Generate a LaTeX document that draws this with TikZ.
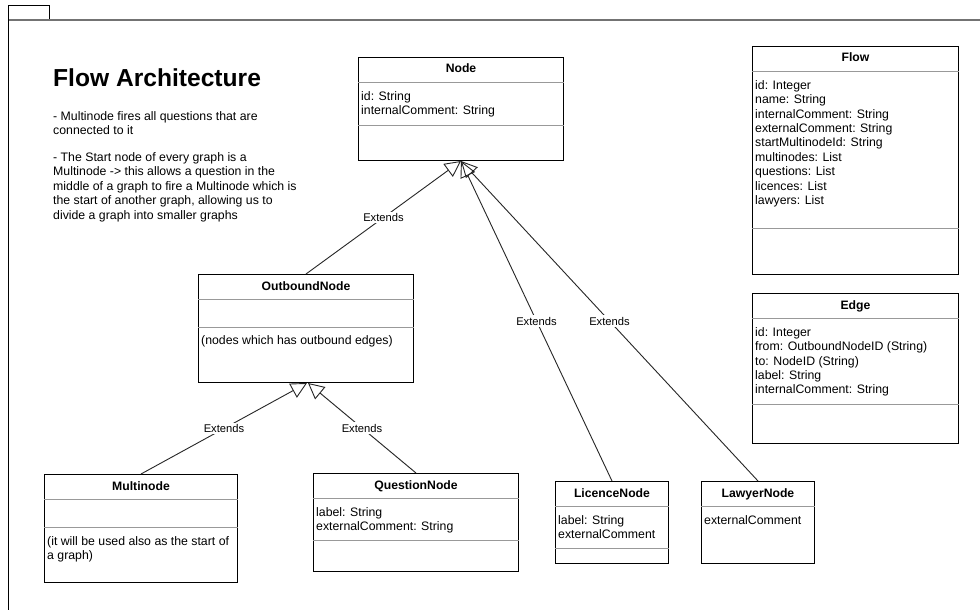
\documentclass[tikz,border=0pt]{standalone}
\usepackage{fontspec}
\setmainfont{Liberation Sans}
\usetikzlibrary{arrows.meta,calc}

\begin{document}
\begin{tikzpicture}[x=1pt,y=-1pt,
  classbox/.style={draw=black, line width=1pt, anchor=north west, inner sep=0pt, fill=white},
  divider/.style={draw=black!40, line width=1pt},
  ctitle/.style={anchor=base, inner sep=0pt, font=\fontsize{12.2}{14.4}\selectfont\bfseries},
  attr/.style={anchor=base west, inner sep=0pt, font=\fontsize{12.3}{14.4}\selectfont},
  extends/.style={draw=black!85, line width=0.9pt, -{Triangle[open, length=16pt, width=16pt]}},
  elabel/.style={fill=white, inner sep=1.5pt, font=\fontsize{11.2}{13}\selectfont},
]
% page
\useasboundingbox (0,0) rectangle (980,610);
\fill[white] (0,0) rectangle (980,610);

% frame with tab
\draw[black, line width=1pt] (8,6) rectangle (49,20);
\draw[black!55, line width=1.5pt] (8,20) -- (980,20);
\draw[black, line width=1pt] (8,6) -- (8,610);

% heading and notes
\node[anchor=base west, inner sep=0pt, font=\fontsize{24.6}{28}\selectfont\bfseries] (heading) at (53,86) {Flow Architecture};
\foreach \ln [count=\i from 0] in {- Multinode fires all questions that are, connected to it}
  \node[attr] (notea\i) at (53,120.5+14.4*\i) {\ln};
\foreach \ln [count=\i from 0] in {- The Start node of every graph is a,
    Multinode -> this allows a question in the,
    middle of a graph to fire a Multinode which is,
    {the start of another graph, allowing us to},
    divide a graph into smaller graphs}
  \node[attr] (noteb\i) at (53,161.5+14.4*\i) {\ln};

% helpers: compartment line and title
\newcommand{\umlsep}[2]{\draw[divider] ($(#1.north west)+(0,#2)$) -- ($(#1.north east)+(0,#2)$);}
\newcommand{\umltitle}[2]{\node[ctitle] (#1-title) at ($(#1.north)+(0,16)$) {#2};}

% Node
\node[classbox, minimum width=205pt, minimum height=103pt] (node) at (358,57) {};
\umltitle{node}{Node}
\umlsep{node}{26}
\umlsep{node}{68}
\foreach \ln [count=\i from 0] in {id: String, internalComment: String}
  \node[attr] (node-a\i) at ($(node.north west)+(3,43.5+14.4*\i)$) {\ln};

% Flow
\node[classbox, minimum width=206pt, minimum height=228pt] (flow) at (752,46) {};
\umltitle{flow}{Flow}
\umlsep{flow}{26}
\umlsep{flow}{182}
\foreach \ln [count=\i from 0] in {id: Integer, name: String, internalComment: String,
    externalComment: String, startMultinodeId: String, multinodes: List,
    questions: List, licences: List, lawyers: List}
  \node[attr] (flow-a\i) at ($(flow.north west)+(3,43.3+14.4*\i)$) {\ln};

% Edge
\node[classbox, minimum width=206pt, minimum height=150pt] (edge) at (752,293) {};
\umltitle{edge}{Edge}
\umlsep{edge}{25}
\umlsep{edge}{111}
\foreach \ln [count=\i from 0] in {id: Integer, from: OutboundNodeID (String),
    to: NodeID (String), label: String, internalComment: String}
  \node[attr] (edge-a\i) at ($(edge.north west)+(3,43.3+14.4*\i)$) {\ln};

% OutboundNode
\node[classbox, minimum width=215pt, minimum height=108pt] (outbound) at (198,274) {};
\umltitle{outbound}{OutboundNode}
\umlsep{outbound}{25}
\umlsep{outbound}{53}
\node[attr] (outbound-a0) at ($(outbound.north west)+(3,70.5)$) {(nodes which has outbound edges)};

% Multinode
\node[classbox, minimum width=193pt, minimum height=108pt] (multi) at (44,474) {};
\umltitle{multi}{Multinode}
\umlsep{multi}{25}
\umlsep{multi}{53}
\node[attr] (multi-a0) at ($(multi.north west)+(3,71)$) {(it will be used also as the start of};
\node[attr] (multi-a1) at ($(multi.north west)+(3,85.4)$) {a graph)};

% QuestionNode
\node[classbox, minimum width=205pt, minimum height=98pt] (question) at (313,473) {};
\umltitle{question}{QuestionNode}
\umlsep{question}{25}
\umlsep{question}{67}
\foreach \ln [count=\i from 0] in {label: String, externalComment: String}
  \node[attr] (question-a\i) at ($(question.north west)+(3,43+14.4*\i)$) {\ln};

% LicenceNode
\node[classbox, minimum width=113pt, minimum height=82pt] (licence) at (555,481) {};
\umltitle{licence}{LicenceNode}
\umlsep{licence}{25}
\umlsep{licence}{67}
\foreach \ln [count=\i from 0] in {label: String, externalComment}
  \node[attr] (licence-a\i) at ($(licence.north west)+(3,43.5+14.4*\i)$) {\ln};

% LawyerNode
\node[classbox, minimum width=113pt, minimum height=82pt] (lawyer) at (701,481) {};
\umltitle{lawyer}{LawyerNode}
\umlsep{lawyer}{25}
\node[attr] (lawyer-a0) at ($(lawyer.north west)+(3,43.5)$) {externalComment};

% generalisations
\draw[extends] (outbound.north) -- node[elabel] (l1) {Extends} (node.south);
\draw[extends] (licence.north) -- node[elabel] (l2) {Extends} (node.south);
\draw[extends] (lawyer.north) -- node[elabel] (l3) {Extends} (node.south);
\draw[extends] (multi.north) -- node[elabel] (l4) {Extends} ($(outbound.south)+(1,0)$);
\draw[extends] (question.north) -- node[elabel] (l5) {Extends} ($(outbound.south)+(2,0)$);
\end{tikzpicture}
\end{document}
